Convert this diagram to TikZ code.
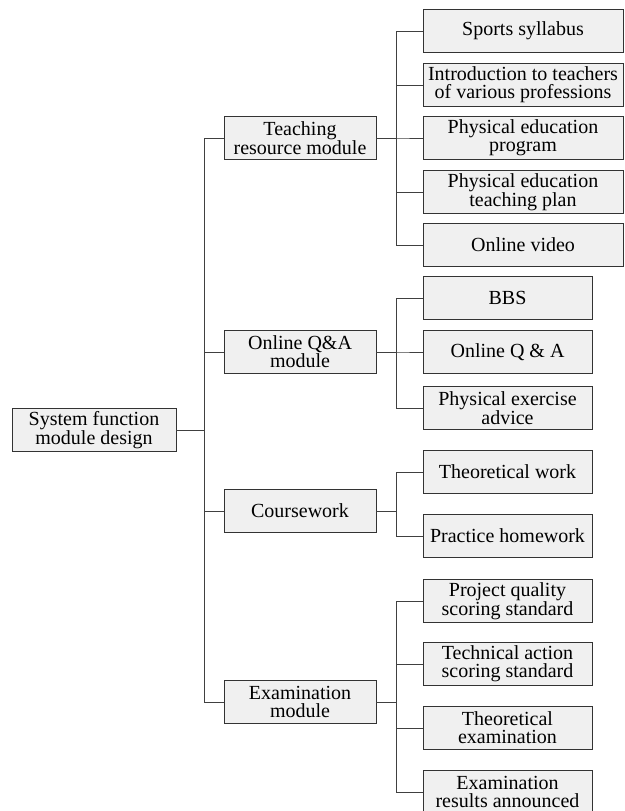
\documentclass[tikz,border=0pt]{standalone}
\usepackage{fontspec}
\setmainfont{Liberation Serif}
\begin{document}
\begin{tikzpicture}[x=1pt,y=-1pt,
  box/.style={draw=black!80, line width=0.9pt, fill=black!6, inner sep=0pt,
    minimum height=43pt, align=center,
    font=\fontsize{20}{18}\selectfont},
  rootbox/.style={box, minimum width=164pt},
  modbox/.style={box, minimum width=152pt},
  leafbox/.style={box, minimum width=169pt},
  wideleaf/.style={box, minimum width=200pt},
  conn/.style={draw=black!75, line width=0.8pt}]
\useasboundingbox (0,0) rectangle (624,811);

% root
\node[rootbox] (root) at (94,430) {System function\\module design};

% modules
\node[modbox] (teach)  at (300,138) {Teaching\\resource module};
\node[modbox] (qa)     at (300,352) {Online Q\&A\\module};
\node[modbox] (course) at (300,511) {Coursework};
\node[modbox] (exam)   at (300,702) {Examination\\module};

% teaching resources
\node[wideleaf] (t1) at (523,31)  {Sports syllabus};
\node[wideleaf] (t2) at (523,85)  {Introduction to teachers\\of various professions};
\node[wideleaf] (t3) at (523,138) {Physical education\\program};
\node[wideleaf] (t4) at (523,192) {Physical education\\teaching plan};
\node[wideleaf] (t5) at (523,245) {Online video};

% online Q&A
\node[leafbox] (q1) at (507.5,298) {BBS};
\node[leafbox] (q2) at (507.5,352) {Online Q \& A};
\node[leafbox] (q3) at (507.5,408) {Physical exercise\\advice};

% coursework
\node[leafbox] (c1) at (507.5,472) {Theoretical work};
\node[leafbox] (c2) at (507.5,536) {Practice homework};

% examination
\node[leafbox] (e1) at (507.5,601) {Project quality\\scoring standard};
\node[leafbox] (e2) at (507.5,664) {Technical action\\scoring standard};
\node[leafbox] (e3) at (507.5,728) {Theoretical\\examination};
\node[leafbox] (e4) at (507.5,792) {Examination\\results announced};

% root to modules
\foreach \m in {teach,qa,course,exam}
  \draw[conn] (root.east) -- ++(28,0) |- (\m.west);

% modules to leaves
\foreach \c in {t1,t2,t3,t4,t5}
  \draw[conn] (teach.east) -- ++(20,0) |- (\c.west);
\foreach \c in {q1,q2,q3}
  \draw[conn] (qa.east) -- ++(20,0) |- (\c.west);
\foreach \c in {c1,c2}
  \draw[conn] (course.east) -- ++(20,0) |- (\c.west);
\foreach \c in {e1,e2,e3,e4}
  \draw[conn] (exam.east) -- ++(20,0) |- (\c.west);
\end{tikzpicture}
\end{document}
